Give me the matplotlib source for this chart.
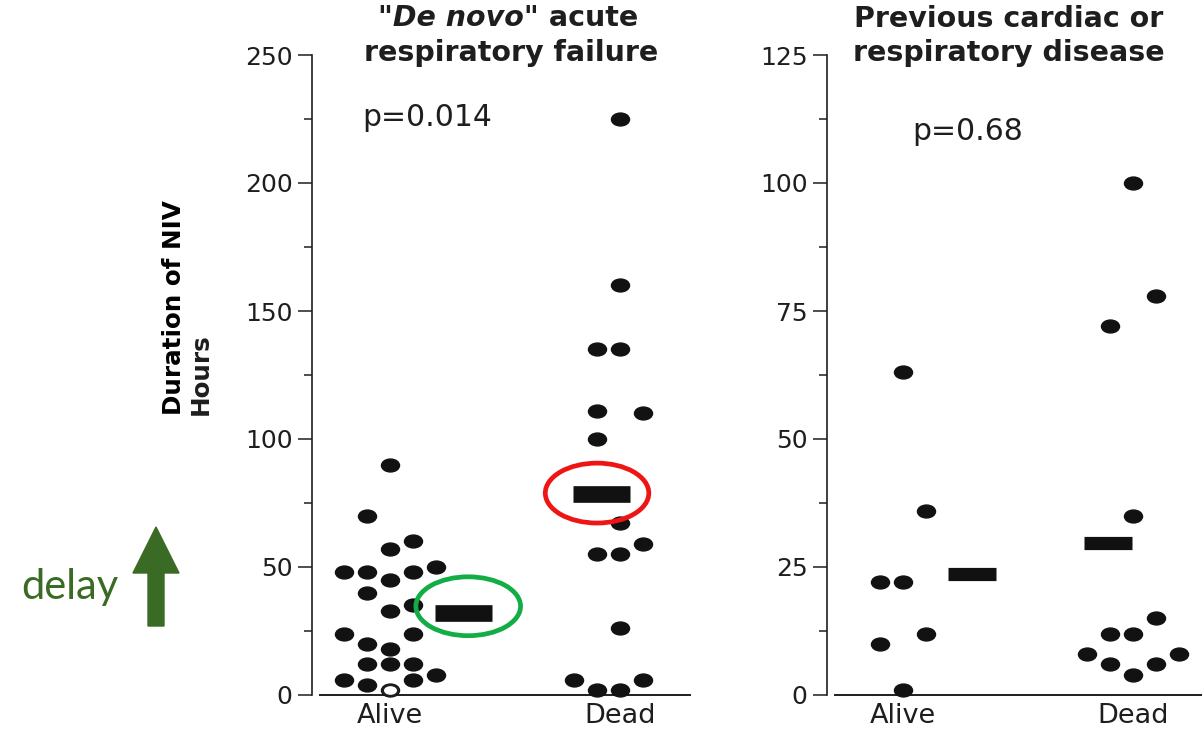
import numpy as np
import matplotlib
matplotlib.use("Agg")
import matplotlib.pyplot as plt
from matplotlib.path import Path
from matplotlib.patches import Ellipse, FancyArrow
from matplotlib.transforms import IdentityTransform
from matplotlib.ticker import MultipleLocator

# Duration of NIV in hours, one value per patient
denovo_alive = [90, 70, 60, 57, 48, 48, 45, 48, 50, 40, 33, 35, 24, 24, 20, 18,
                12, 12, 12, 6, 4, 2, 6, 8]
denovo_dead = [225, 160, 135, 135, 111, 110, 100, 67, 59, 55, 55, 26, 6, 2, 2, 6]
previous_alive = [63, 36, 22, 22, 12, 10, 1]
previous_dead = [100, 78, 72, 35, 15, 12, 12, 8, 6, 4, 6, 8]

# patient drawn as an open circle (index into denovo_alive)
denovo_alive_open = 21

groups = ["Alive", "Dead"]
titles = [[('"De novo"', "italic"), (" acute", "normal")],
          [("Previous cardiac or", "normal")]]
subtitles = ["respiratory failure", "respiratory disease"]
p_values = ["p=0.014", "p=0.68"]

# column of each dot inside its swarm
denovo_alive_cols = [0, -1, 1, 0, -2, -1, 0, 1, 2, -1, 0, 1, -2, 1, -1, 0,
                     -1, 0, 1, -2, -1, 0, 1, 2]
denovo_dead_cols = [0, 0, -1, 0, -1, 1, -1, 0, 1, -1, 0, 0, -2, -1, 0, 1]
previous_alive_cols = [0, 1, -1, 0, 1, -1, 0]
previous_dead_cols = [0, 1, -1, 0, 1, -1, 0, -2, -1, 0, 1, 2]

W, H = 1202, 730
INK = "#1e1e1e"
GREEN = "#3a6b24"

plt.rcParams["font.family"] = "DejaVu Sans"

fig = plt.figure(figsize=(W / 100, H / 100), dpi=100)
ax1 = fig.add_axes([312 / W, 35 / H, 378 / W, 640 / H])
ax2 = fig.add_axes([827 / W, 35 / H, 375 / W, 640 / H])

circ = Path.unit_circle()
dot = Path(circ.vertices * [1.4, 1.0], circ.codes)


def draw_panel(ax, alive, dead, alive_cols, dead_cols, ymax, step,
               xlim, bar_x, bar_w, bar_lw, open_idx=None):
    pos = [0, 10]
    for p, vals, cols in [(pos[0], alive, alive_cols), (pos[1], dead, dead_cols)]:
        x = p + np.array(cols)
        ax.plot(x, vals, ls="none", marker=dot, ms=13, mfc="#121212",
                mec="#121212", clip_on=False, zorder=3)
    if open_idx is not None:
        ax.plot(pos[0] + alive_cols[open_idx], alive[open_idx], ls="none",
                marker=dot, ms=11, mfc="white", mec=INK, mew=1.6,
                clip_on=False, zorder=4)

    # group means
    for bx, vals in zip(bar_x, [alive, dead]):
        m = np.mean(vals)
        ax.plot([bx - bar_w / 2, bx + bar_w / 2], [m, m], color="#111111",
                lw=bar_lw, solid_capstyle="butt", zorder=3)

    ax.set_xlim(*xlim)
    ax.set_ylim(0, ymax)
    ax.set_xticks(pos)
    ax.set_xticklabels(groups)
    ax.yaxis.set_major_locator(MultipleLocator(step))
    ax.yaxis.set_minor_locator(MultipleLocator(step / 2))
    ax.tick_params(axis="x", length=0, pad=6, labelsize=19.5, labelcolor=INK)
    ax.tick_params(axis="y", which="major", length=10, width=1.1, pad=4,
                   labelsize=18, labelcolor=INK, color=INK)
    ax.tick_params(axis="y", which="minor", length=6, width=1.1, color=INK)
    for s in ["top", "right"]:
        ax.spines[s].set_visible(False)
    ax.spines["left"].set_linewidth(1.2)
    ax.spines["left"].set_color(INK)
    ax.spines["bottom"].set_linewidth(1.4)
    ax.spines["bottom"].set_color(INK)
    ax.spines["bottom"].set_bounds(xlim[0] + 0.33, xlim[1])


draw_panel(ax1, denovo_alive, denovo_dead, denovo_alive_cols, denovo_dead_cols,
           250, 50, (-3.39, 13.04), [3.2, 9.2], 2.5, 12, denovo_alive_open)
draw_panel(ax2, previous_alive, previous_dead, previous_alive_cols,
           previous_dead_cols, 125, 25, (-3.30, 13.0), [3.0, 8.9], 2.1, 9.5)

# highlight rings around the two means
m_alive = np.mean(denovo_alive)
m_dead = np.mean(denovo_dead)
ax1.add_patch(Ellipse((3.4, m_alive + 2.5), 4.55, 23, fill=False,
                      ec="#12ad45", lw=3.4, zorder=5, clip_on=False))
ax1.add_patch(Ellipse((9.0, m_dead + 0.5), 4.5, 23.4, fill=False,
                      ec="#ee1515", lw=3.4, zorder=5, clip_on=False))

renderer = fig.canvas.get_renderer()


def centered_runs(cx, cy, runs, **kw):
    items = [fig.text(0, 1 - cy / H, s, fontstyle=st, ha="left", va="center",
                      **kw) for s, st in runs]
    widths = [t.get_window_extent(renderer).width for t in items]
    x = cx - sum(widths) / 2
    for t, w in zip(items, widths):
        t.set_x(x / W)
        x += w


tkw = dict(fontsize=20.5, fontweight="bold", color=INK)
centered_runs(508, 18, titles[0], **tkw)
centered_runs(511, 53, [(subtitles[0], "normal")], **tkw)
centered_runs(1009, 19, titles[1], **tkw)
centered_runs(1009, 53, [(subtitles[1], "normal")], **tkw)

fig.text(427 / W, 1 - 118 / H, p_values[0], ha="center", va="center",
         fontsize=21.5, color=INK)
fig.text(968 / W, 1 - 132 / H, p_values[1], ha="center", va="center",
         fontsize=21.5, color=INK)

# axis title, two rotated lines
fig.text(174 / W, 1 - 415 / H, "Duration of NIV", rotation=90, ha="center",
         va="bottom", fontsize=17.7, fontweight="bold", color="black")
fig.text(201 / W, 1 - 415 / H, "Hours", rotation=90, ha="center",
         va="bottom", fontsize=17.7, fontweight="bold", color=INK)

# "delay" marker with arrow
fig.text(70 / W, 1 - 587 / H, "delay", ha="center", va="center",
         fontsize=30, color=GREEN, family="Lato")
fig.add_artist(FancyArrow(156, H - 626, 0, 99, width=16, head_width=46,
                          head_length=46, length_includes_head=True,
                          color=GREEN, transform=IdentityTransform()))

fig.savefig("out.png", dpi=100)
